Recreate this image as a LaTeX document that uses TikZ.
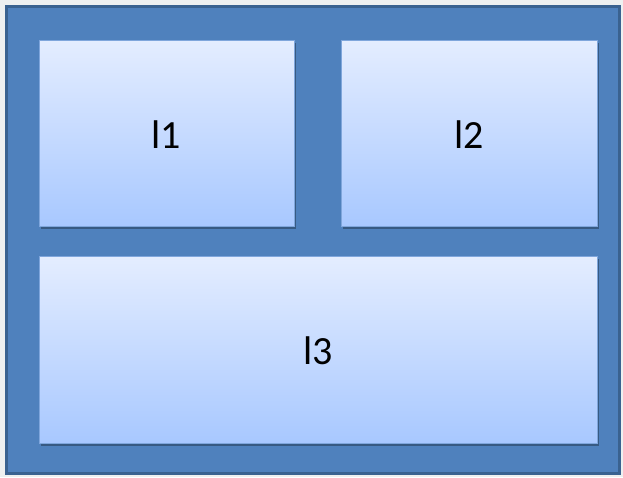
\documentclass[tikz,border=0pt]{standalone}
\usepackage{fontspec}
\setmainfont{Carlito}
\usetikzlibrary{shadows}
\definecolor{bgout}{HTML}{EEF0F0}
\definecolor{outfill}{HTML}{4F81BD}
\definecolor{outdraw}{HTML}{3A6290}
\definecolor{boxtop}{HTML}{E4EDFF}
\definecolor{boxbot}{HTML}{A8C8FF}
\definecolor{boxdraw}{HTML}{7FA6DC}
\tikzset{
  panel/.style={draw=boxdraw, line width=1pt, top color=boxtop, bottom color=boxbot,
    drop shadow={shadow xshift=2pt, shadow yshift=-3pt, fill=black, opacity=0.3}},
  lbl/.style={font=\fontsize{40}{44}\selectfont, text=black, inner sep=0pt},
  frame/.style={draw=outdraw, line width=3pt, fill=outfill}
}
\begin{document}
\begin{tikzpicture}[x=1pt,y=-1pt]
\fill[bgout] (0,0) rectangle (623,477);
\useasboundingbox (0,0) rectangle (623,477);
\draw[frame] (6,6) rectangle (619,473);
\path[panel] (39,40) rectangle (294,226);
\node[lbl] (l1) at (166.5,135) {l1};
\path[panel] (341,40) rectangle (597,226);
\node[lbl] (l2) at (469,135) {l2};
\path[panel] (39,256) rectangle (597,443);
\node[lbl] (l3) at (318,351) {l3};
\end{tikzpicture}
\end{document}
